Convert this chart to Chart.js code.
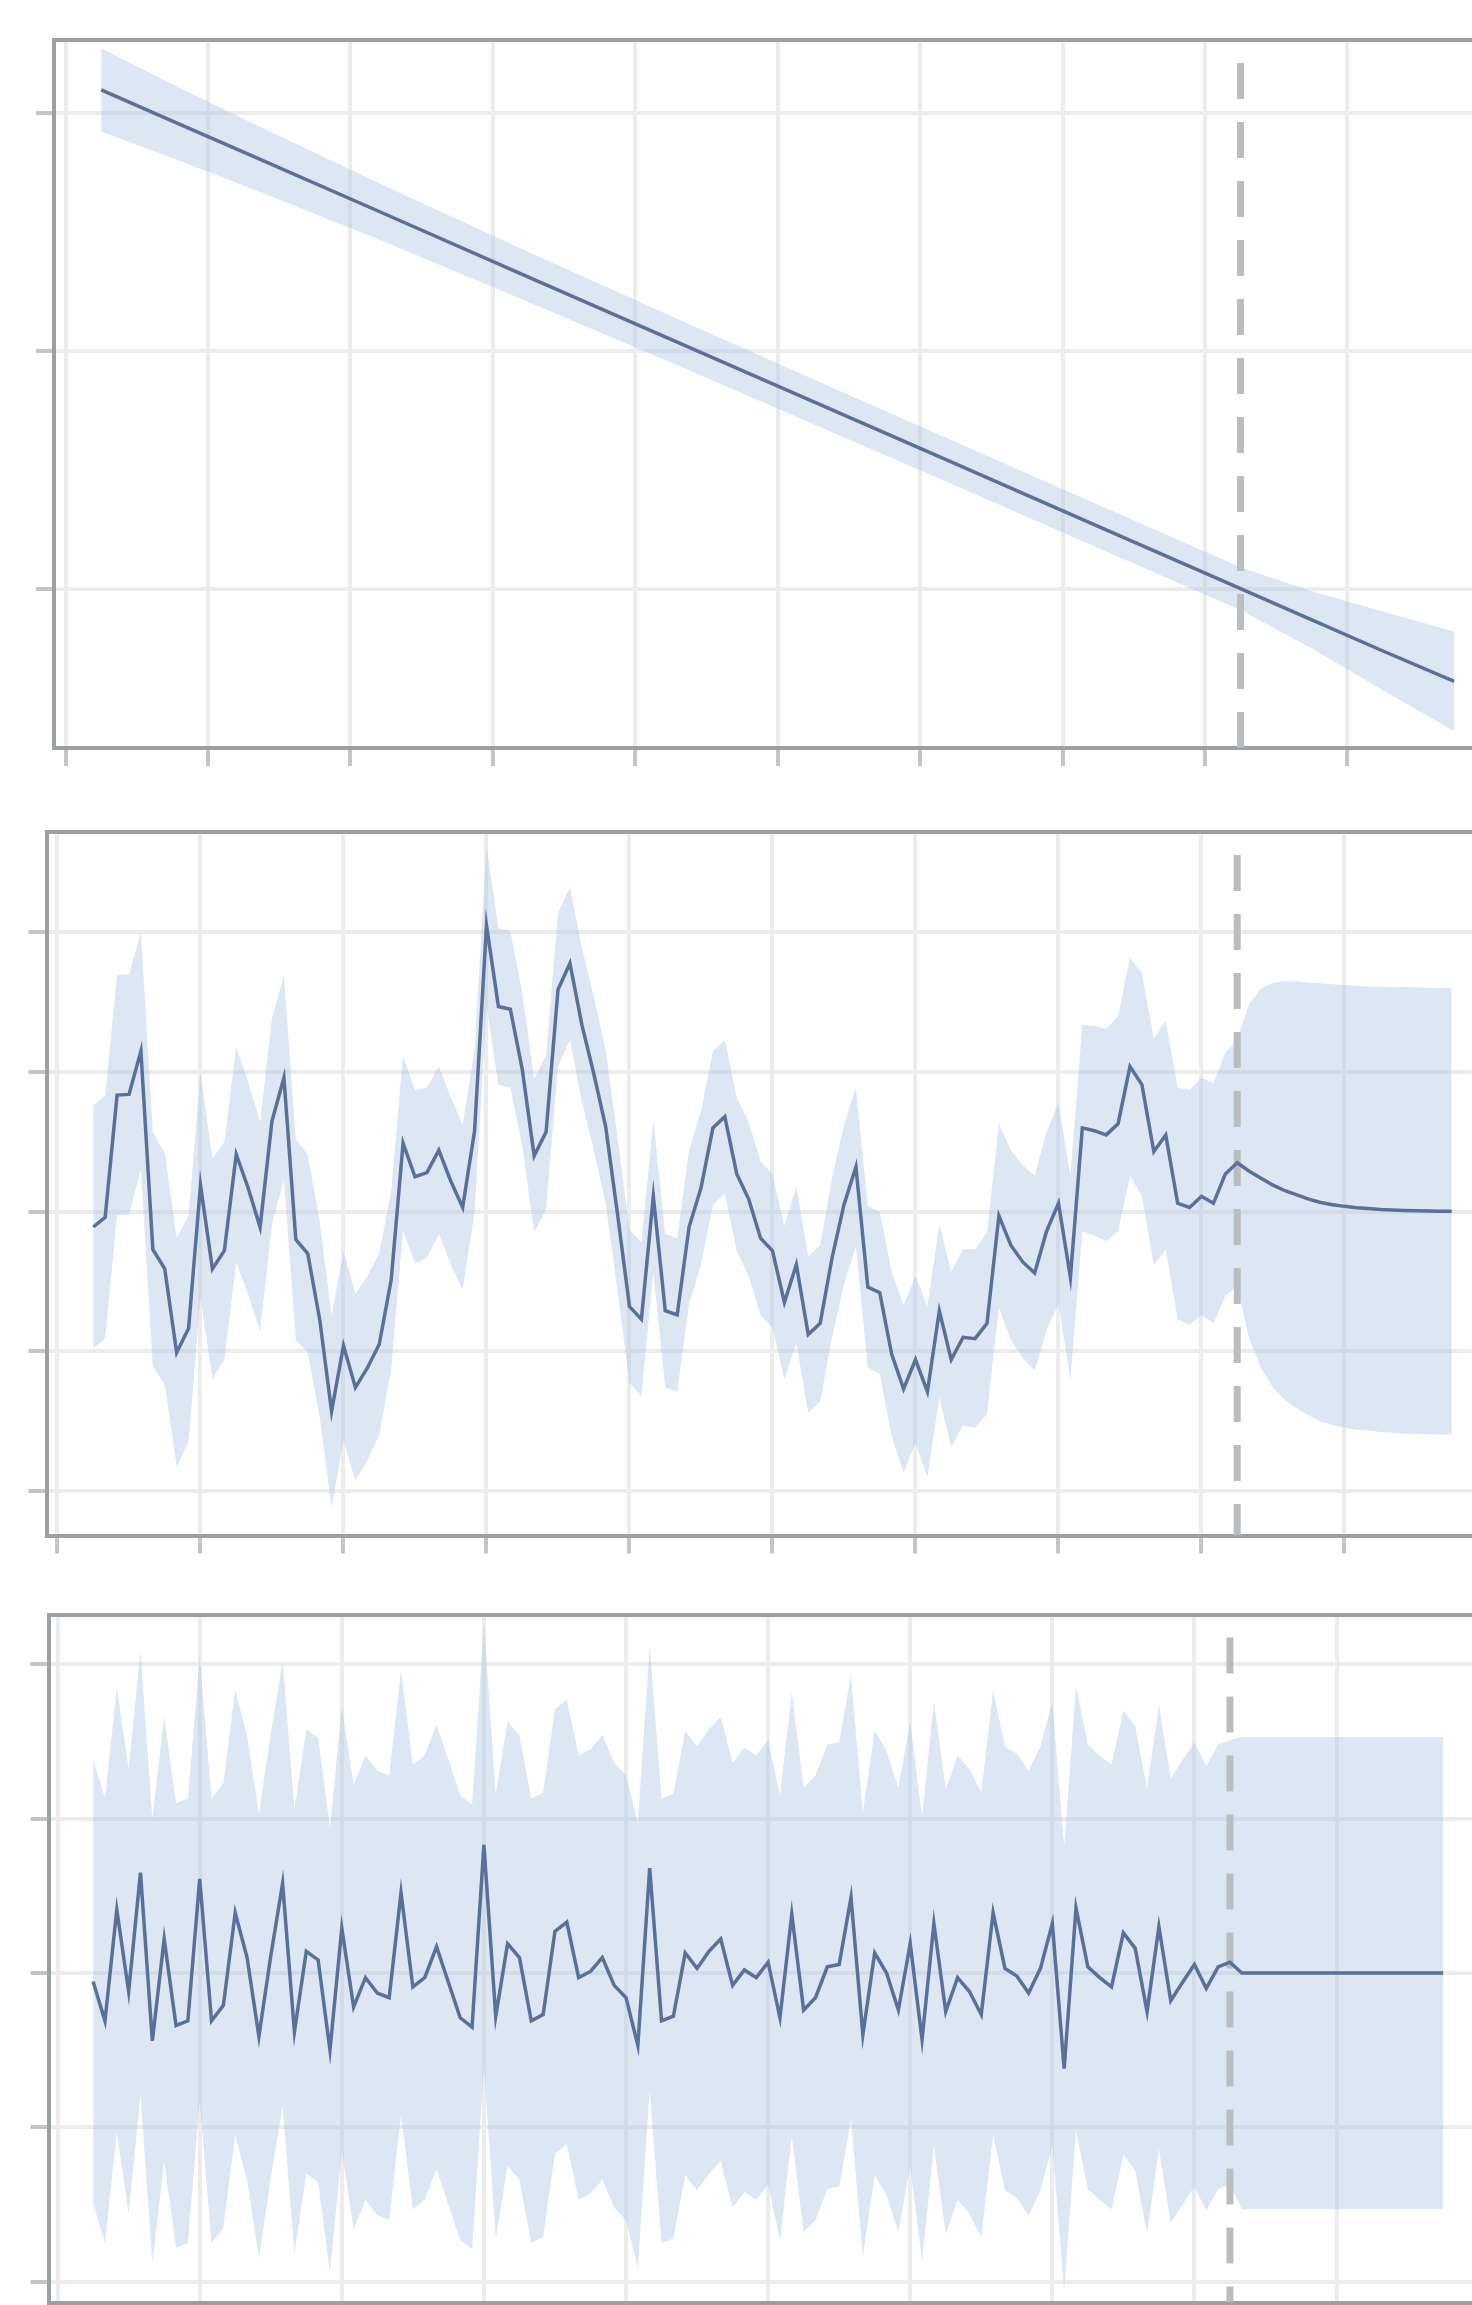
<!DOCTYPE html>
<html>
<head>
<meta charset="utf-8">
<script src="https://cdn.jsdelivr.net/npm/chart.js@4.4.1/dist/chart.umd.min.js"></script>
<style>
  html, body { margin: 0; padding: 0; background: #fff; overflow: hidden; }
  body { width: 1472px; height: 2305px; position: relative; }
  canvas { position: absolute; left: 0; }
</style>
</head>
<body>
<canvas id="trendChart" width="1472" height="800" style="top:0px"></canvas>
<canvas id="cycleChart" width="1472" height="780" style="top:800px"></canvas>
<canvas id="irregularChart" width="1472" height="760" style="top:1580px"></canvas>
<script>
// months are counted from the first grid line; history starts at month 3, forecast after month 99
const startMonth = 3;
const forecastStart = 99;

// panel 1: trend (read at a few months, it is a straight line)
const trendMonths = [3, 9, 15, 27, 39, 51, 63, 75, 87, 99, 105, 111, 117];
const trend      = [2.098, 1.967, 1.836, 1.574, 1.311, 1.049, 0.787, 0.525, 0.262, 0.0, -0.131, -0.262, -0.39];
const trendUpper = [2.273, 2.122, 1.976, 1.692, 1.416, 1.147, 0.881, 0.617, 0.353, 0.09, -0.011, -0.097, -0.18];
const trendLower = [1.923, 1.812, 1.696, 1.456, 1.206, 0.951, 0.693, 0.433, 0.171, -0.09, -0.251, -0.427, -0.60];

// panel 2: cycle, monthly from month 3
const cycleFit = [
  -0.11, -0.04, 0.835, 0.84, 1.15, -0.27, -0.41, -1.01, -0.835, 0.19,
  -0.41, -0.28, 0.41, 0.17, -0.11, 0.65, 0.96, -0.20, -0.30, -0.77,
  -1.43, -0.96, -1.26, -1.12, -0.95, -0.49, 0.49, 0.25, 0.28, 0.44,
  0.22, 0.03, 0.58, 2.05, 1.47, 1.45, 1.02, 0.40, 0.57, 1.59,
  1.78, 1.34, 0.99, 0.61, -0.02, -0.68, -0.77, 0.11, -0.71, -0.74,
  -0.11, 0.17, 0.60, 0.68, 0.27, 0.09, -0.19, -0.28, -0.65, -0.38,
  -0.88, -0.80, -0.33, 0.05, 0.32, -0.54, -0.58, -1.02, -1.27, -1.06,
  -1.29, -0.71, -1.06, -0.90, -0.91, -0.80, -0.03, -0.24, -0.36, -0.44,
  -0.14, 0.06, -0.47, 0.60, 0.58, 0.55, 0.63, 1.04, 0.91, 0.43,
  0.55, 0.06, 0.03, 0.11, 0.06, 0.27, 0.35
];
const cycleForecast = [0.29, 0.24, 0.19, 0.15, 0.12, 0.09, 0.066, 0.05, 0.038, 0.028, 0.022, 0.016, 0.012, 0.009, 0.007, 0.005, 0.003, 0.003];
// half width of the confidence band
const cycleSpreadFit = [
  0.87, 0.87, 0.86, 0.86, 0.85, 0.84, 0.83, 0.82, 0.81, 0.80,
  0.79, 0.78, 0.77, 0.76, 0.75, 0.74, 0.73, 0.72, 0.71, 0.70,
  0.69, 0.68, 0.67, 0.66, 0.65, 0.64, 0.63, 0.62, 0.61, 0.60,
  0.60, 0.59, 0.58, 0.57, 0.56, 0.56, 0.55, 0.55, 0.55, 0.55,
  0.55, 0.55, 0.55, 0.55, 0.55, 0.55, 0.55, 0.55, 0.55, 0.55,
  0.55, 0.55, 0.55, 0.55, 0.55, 0.55, 0.55, 0.55, 0.55, 0.56,
  0.56, 0.56, 0.57, 0.57, 0.57, 0.58, 0.58, 0.59, 0.60, 0.60,
  0.61, 0.62, 0.63, 0.63, 0.64, 0.65, 0.66, 0.68, 0.69, 0.70,
  0.71, 0.72, 0.73, 0.74, 0.75, 0.76, 0.77, 0.78, 0.80, 0.81,
  0.82, 0.83, 0.84, 0.85, 0.86, 0.87, 0.88
];
const cycleSpreadForecast = [1.2, 1.36, 1.45, 1.5, 1.53, 1.55, 1.57, 1.58, 1.585, 1.59, 1.59, 1.595, 1.595, 1.6, 1.6, 1.6, 1.6, 1.6];

// panel 3: irregular, monthly from month 3
const irregularFit = [
  -0.055, -0.31, 0.41, -0.12, 0.65, -0.44, 0.22, -0.34, -0.31, 0.61,
  -0.31, -0.21, 0.39, 0.10, -0.41, 0.11, 0.58, -0.38, 0.14, 0.085,
  -0.50, 0.29, -0.22, -0.03, -0.13, -0.16, 0.52, -0.09, -0.03, 0.17,
  -0.06, -0.29, -0.35, 0.83, -0.28, 0.19, 0.10, -0.31, -0.27, 0.27,
  0.33, -0.03, 0.01, 0.10, -0.08, -0.16, -0.47, 0.68, -0.31, -0.28,
  0.13, 0.03, 0.14, 0.22, -0.08, 0.02, -0.03, 0.07, -0.29, 0.38,
  -0.24, -0.16, 0.04, 0.055, 0.49, -0.40, 0.13, 0.0, -0.24, 0.19,
  -0.43, 0.32, -0.25, -0.03, -0.12, -0.27, 0.39, 0.03, -0.02, -0.13,
  0.03, 0.32, -0.62, 0.42, 0.04, -0.03, -0.09, 0.26, 0.16, -0.25,
  0.30, -0.18, -0.06, 0.055, -0.10, 0.04, 0.07
];
const irregularForecast = [0, 0, 0, 0, 0, 0, 0, 0, 0, 0, 0, 0, 0, 0, 0, 0, 0, 0];
const irregularSpreadFit = 1.44;
const irregularSpreadForecast = 1.53;

const lineColor = '#58709a';
const bandColor = 'rgba(180, 200, 228, 0.45)';
const gridColor = '#ececec';
const tickColor = '#c3c6c9';
const axisColor = '#9aa0a4';
const dashColor = '#babdc0';

function toPoints(xs, ys) {
    return ys.map((y, i) => ({ x: xs[i], y: y }));
}

function monthsFrom(start, n) {
    return Array.from({ length: n }, (_, i) => start + i);
}

function buildAxes(xMin, xMax, yMin, yMax) {
    const grid = { color: gridColor, lineWidth: 4, tickLength: 18, tickColor: tickColor, tickWidth: 4 };
    const border = { color: axisColor, width: 4 };
    return {
        x: { type: 'linear', min: xMin, max: xMax, grid: grid, border: border,
             ticks: { display: false, stepSize: 12, includeBounds: false } },
        xTop: { type: 'linear', axis: 'x', position: 'top', border: border,
                grid: { display: false, drawTicks: false }, ticks: { display: false } },
        y: { type: 'linear', min: yMin, max: yMax, grid: grid, border: border,
             ticks: { display: false, stepSize: 1, includeBounds: false } }
    };
}

function drawPanel(canvasId, panel) {
    const ctx = document.getElementById(canvasId).getContext('2d');
    new Chart(ctx, {
        type: 'line',
        data: {
            datasets: [
                { data: panel.line, borderColor: lineColor, borderWidth: 3.5, pointRadius: 0, tension: 0, fill: false, order: 0 },
                { data: [{ x: forecastStart, y: panel.yMax }, { x: forecastStart, y: panel.yMin }],
                  borderColor: dashColor, borderWidth: 7, borderDash: [36, 23], borderDashOffset: 36,
                  pointRadius: 0, fill: false, order: 1 },
                { data: panel.upper, borderColor: 'rgba(0,0,0,0)', borderWidth: 0, pointRadius: 0, tension: 0, fill: false, order: 2 },
                { data: panel.lower, borderColor: 'rgba(0,0,0,0)', borderWidth: 0, pointRadius: 0, tension: 0,
                  fill: '-1', backgroundColor: bandColor, order: 2 }
            ]
        },
        options: {
            responsive: false,
            devicePixelRatio: 1,
            animation: false,
            layout: { padding: panel.padding },
            plugins: { legend: { display: false }, tooltip: { enabled: false } },
            scales: buildAxes(panel.xMin, panel.xMax, panel.yMin, panel.yMax)
        }
    });
}

// trend
drawPanel('trendChart', {
    line: toPoints(trendMonths, trend),
    upper: toPoints(trendMonths, trendUpper),
    lower: toPoints(trendMonths, trendLower),
    xMin: -0.977, xMax: 118.5, yMin: -0.670, yMax: 2.308,
    padding: { top: 40, left: 36, right: 0, bottom: 34 }
});

// cycle
const cycle = cycleFit.concat(cycleForecast);
const cycleSpread = cycleSpreadFit.concat(cycleSpreadForecast);
const cycleMonths = monthsFrom(startMonth, cycle.length);
drawPanel('cycleChart', {
    line: toPoints(cycleMonths, cycle),
    upper: toPoints(cycleMonths, cycle.map((v, i) => v + cycleSpread[i])),
    lower: toPoints(cycleMonths, cycle.map((v, i) => v - cycleSpread[i])),
    xMin: -0.923, xMax: 118.7, yMin: -2.32, yMax: 2.72,
    padding: { top: 32, left: 28.5, right: 0, bottom: 26.5 }
});

// irregular
const irregular = irregularFit.concat(irregularForecast);
const irrMonths = monthsFrom(startMonth, irregular.length);
const irrSpread = i => (i < irregularFit.length ? irregularSpreadFit : irregularSpreadForecast);
drawPanel('irregularChart', {
    line: toPoints(irrMonths, irregular),
    upper: toPoints(irrMonths, irregular.map((v, i) => v + irrSpread(i))),
    lower: toPoints(irrMonths, irregular.map((v, i) => v - irrSpread(i))),
    xMin: -0.768, xMax: 119.44, yMin: -2.135, yMax: 2.323,
    padding: { top: 34.5, left: 30.5, right: 0, bottom: 19.5 }
});
</script>
</body>
</html>
